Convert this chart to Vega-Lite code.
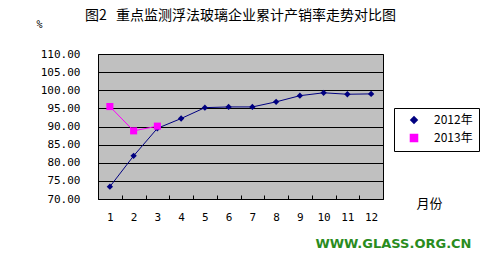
{
  "$schema": "https://vega.github.io/schema/vega-lite/v6.json",
  "background": "white",
  "padding": {"left": 35, "top": 8, "right": 5, "bottom": 5},
  "title": {"text": "WWW.GLASS.ORG.CN", "orient": "bottom", "anchor": "end", "color": "#2A8C1E", "font": "DejaVu Sans", "fontWeight": "bold", "fontSize": 13, "offset": 15, "dx": -8},
  "vconcat": [
    {
      "width": 285,
      "height": 145,
      "title": {"text": "图2\u00a0\u00a0\u00a0重点监测浮法玻璃企业累计产销率走势对比图", "font": "Noto Sans CJK SC", "fontSize": 14, "fontWeight": "normal", "color": "#000000", "anchor": "middle", "frame": "group", "offset": -4, "dx": 0},
      "data": {
        "values": [
          {"month": 1, "series": "2012年", "rate": 73.4},
          {"month": 2, "series": "2012年", "rate": 81.9},
          {"month": 3, "series": "2012年", "rate": 89.5},
          {"month": 4, "series": "2012年", "rate": 92.2},
          {"month": 5, "series": "2012年", "rate": 95.2},
          {"month": 6, "series": "2012年", "rate": 95.4},
          {"month": 7, "series": "2012年", "rate": 95.4},
          {"month": 8, "series": "2012年", "rate": 96.8},
          {"month": 9, "series": "2012年", "rate": 98.5},
          {"month": 10, "series": "2012年", "rate": 99.3},
          {"month": 11, "series": "2012年", "rate": 98.9},
          {"month": 12, "series": "2012年", "rate": 99.0},
          {"month": 1, "series": "2013年", "rate": 95.5},
          {"month": 2, "series": "2013年", "rate": 88.8},
          {"month": 3, "series": "2013年", "rate": 90.1}
        ]
      },
      "encoding": {
        "x": {
          "field": "month", "type": "ordinal",
          "scale": {"type": "band", "paddingInner": 0, "paddingOuter": 0},
          "axis": {
            "title": "月份", "titleFont": "Noto Sans CJK SC", "titleFontSize": 13, "titleFontWeight": "normal",
            "titleX": 331, "titleY": 4, "titleAlign": "center", "titleBaseline": "middle",
            "labelAngle": 0, "tickBand": "extent", "ticks": true, "tickSize": -4, "tickColor": "#000000", "tickWidth": 1,
            "labelPadding": 16, "domain": false, "grid": false
          }
        },
        "y": {
          "field": "rate", "type": "quantitative",
          "scale": {"domain": [70, 110], "nice": false, "zero": false},
          "axis": {
            "title": "%", "titleAngle": 0, "titleX": -59, "titleY": -30, "titleAlign": "center", "titleBaseline": "middle",
            "titleFont": "DejaVu Sans Mono", "titleFontSize": 10, "titleFontWeight": "normal",
            "values": [70, 75, 80, 85, 90, 95, 100, 105, 110], "format": ".2f",
            "ticks": false, "labelPadding": 18, "domain": false,
            "grid": true, "gridColor": "#000000", "gridOpacity": 1, "gridWidth": 1
          }
        },
        "color": {
          "field": "series", "type": "nominal",
          "scale": {"domain": ["2012年", "2013年"], "range": ["#000080", "#FF00FF"]}
        }
      },
      "layer": [
        {
          "mark": {"type": "line", "strokeWidth": 1},
          "encoding": {
            "color": {
              "field": "series", "type": "nominal",
              "scale": {"domain": ["2012年", "2013年"], "range": ["#000080", "#FF00FF"]},
              "legend": {
                "title": null, "orient": "none", "legendX": 296, "legendY": 54,
                "strokeColor": "#000000", "fillColor": "#FFFFFF", "padding": 6,
                "labelFont": "Noto Sans CJK SC", "labelFontSize": 12, "labelColor": "#000000",
                "labelOffset": 14, "rowPadding": 4, "symbolOffset": 8
              }
            }
          }
        },
        {
          "mark": {"type": "point", "filled": true, "opacity": 1},
          "encoding": {
            "color": {"field": "series", "type": "nominal", "legend": null},
            "shape": {"field": "series", "type": "nominal", "scale": {"domain": ["2012年", "2013年"], "range": ["diamond", "square"]}, "legend": null},
            "size": {"field": "series", "type": "nominal", "scale": {"domain": ["2012年", "2013年"], "range": [40, 50]}, "legend": null}
          }
        }
      ]
    }
  ],
  "config": {
    "view": {"stroke": "#000000", "strokeWidth": 1, "fill": "#C0C0C0"},
    "axis": {"labelFont": "DejaVu Sans Mono", "labelFontSize": 11, "labelColor": "#000000"},
    "legend": {"strokeColor": "#000000", "strokeWidth": 1}
  }
}
